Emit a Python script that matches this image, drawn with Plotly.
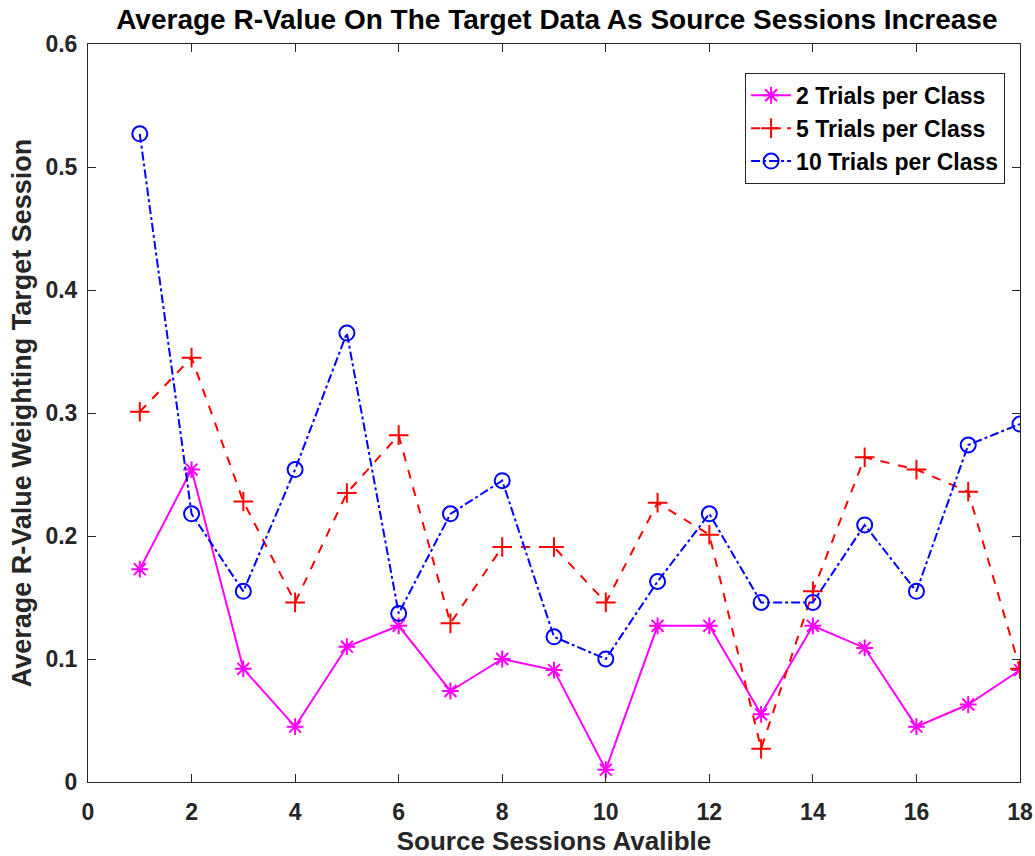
import plotly.graph_objects as go

sessions = list(range(1, 19))
trials2 = [0.173, 0.254, 0.092, 0.045, 0.110, 0.127, 0.074, 0.100, 0.091, 0.010,
           0.127, 0.127, 0.055, 0.127, 0.109, 0.045, 0.063, 0.091]
trials5 = [0.301, 0.345, 0.228, 0.146, 0.235, 0.282, 0.129, 0.191, 0.191, 0.146,
           0.227, 0.201, 0.027, 0.155, 0.264, 0.254, 0.236, 0.092]
trials10 = [0.527, 0.218, 0.155, 0.254, 0.365, 0.137, 0.218, 0.245, 0.118, 0.100,
            0.163, 0.218, 0.146, 0.146, 0.209, 0.155, 0.274, 0.291]

x_ticks = list(range(0, 19, 2))
y_ticks = [0, 0.1, 0.2, 0.3, 0.4, 0.5, 0.6]
y_tick_text = ["0", "0.1", "0.2", "0.3", "0.4", "0.5", "0.6"]

FONT = "Liberation Sans"
TXT = "#262626"

fig = go.Figure()
fig.add_trace(go.Scatter(
    x=sessions, y=trials2, mode="lines+markers", name="2 Trials per Class",
    line=dict(color="#FF00FF", width=2, dash="solid"),
    marker=dict(symbol="asterisk-open", size=14, color="#FF00FF",
                line=dict(color="#FF00FF", width=2))))
fig.add_trace(go.Scatter(
    x=sessions, y=trials5, mode="lines+markers", name="5 Trials per Class",
    line=dict(color="#FF0000", width=2, dash="dash"),
    marker=dict(symbol="cross-thin-open", size=14, color="#FF0000",
                line=dict(color="#FF0000", width=2))))
fig.add_trace(go.Scatter(
    x=sessions, y=trials10, mode="lines+markers", name="10 Trials per Class",
    line=dict(color="#0000FF", width=2, dash="dashdot"),
    marker=dict(symbol="circle-open", size=15, color="#0000FF",
                line=dict(color="#0000FF", width=2))))

axis_common = dict(
    showgrid=False, zeroline=False, showline=True, linecolor=TXT,
    linewidth=1, mirror="ticks", ticks="inside", ticklen=8, tickcolor=TXT,
    automargin=False,
    tickfont=dict(family=FONT, size=23, color=TXT, weight="bold"),
)

fig.update_layout(
    width=1035, height=856,
    margin=dict(l=88, r=15, t=44, b=74),
    paper_bgcolor="white", plot_bgcolor="white",
    title=dict(text="Average R-Value On The Target Data As Source Sessions Increase",
               x=0.538, xanchor="center", y=0.977, yanchor="middle",
               font=dict(family=FONT, size=28, color="black", weight="bold")),
    xaxis=dict(range=[0, 18], tickvals=x_ticks, ticklabelstandoff=9,
               title=dict(text="Source Sessions Avalible", standoff=10,
                          font=dict(family=FONT, size=26, color=TXT, weight="bold")),
               **axis_common),
    yaxis=dict(range=[0, 0.6], tickvals=y_ticks, ticktext=y_tick_text,
               ticklabelstandoff=5,
               title=dict(text="Average R-Value Weighting Target Session", standoff=5,
                          font=dict(family=FONT, size=27, color=TXT, weight="bold")),
               **axis_common),
    legend=dict(x=0.984, xanchor="right", y=0.961, yanchor="top",
                bgcolor="white", bordercolor=TXT, borderwidth=1,
                font=dict(family=FONT, size=23, color="black", weight="bold"),
                tracegroupgap=0, itemwidth=40),
    showlegend=True,
)

fig.write_html("out.html")
